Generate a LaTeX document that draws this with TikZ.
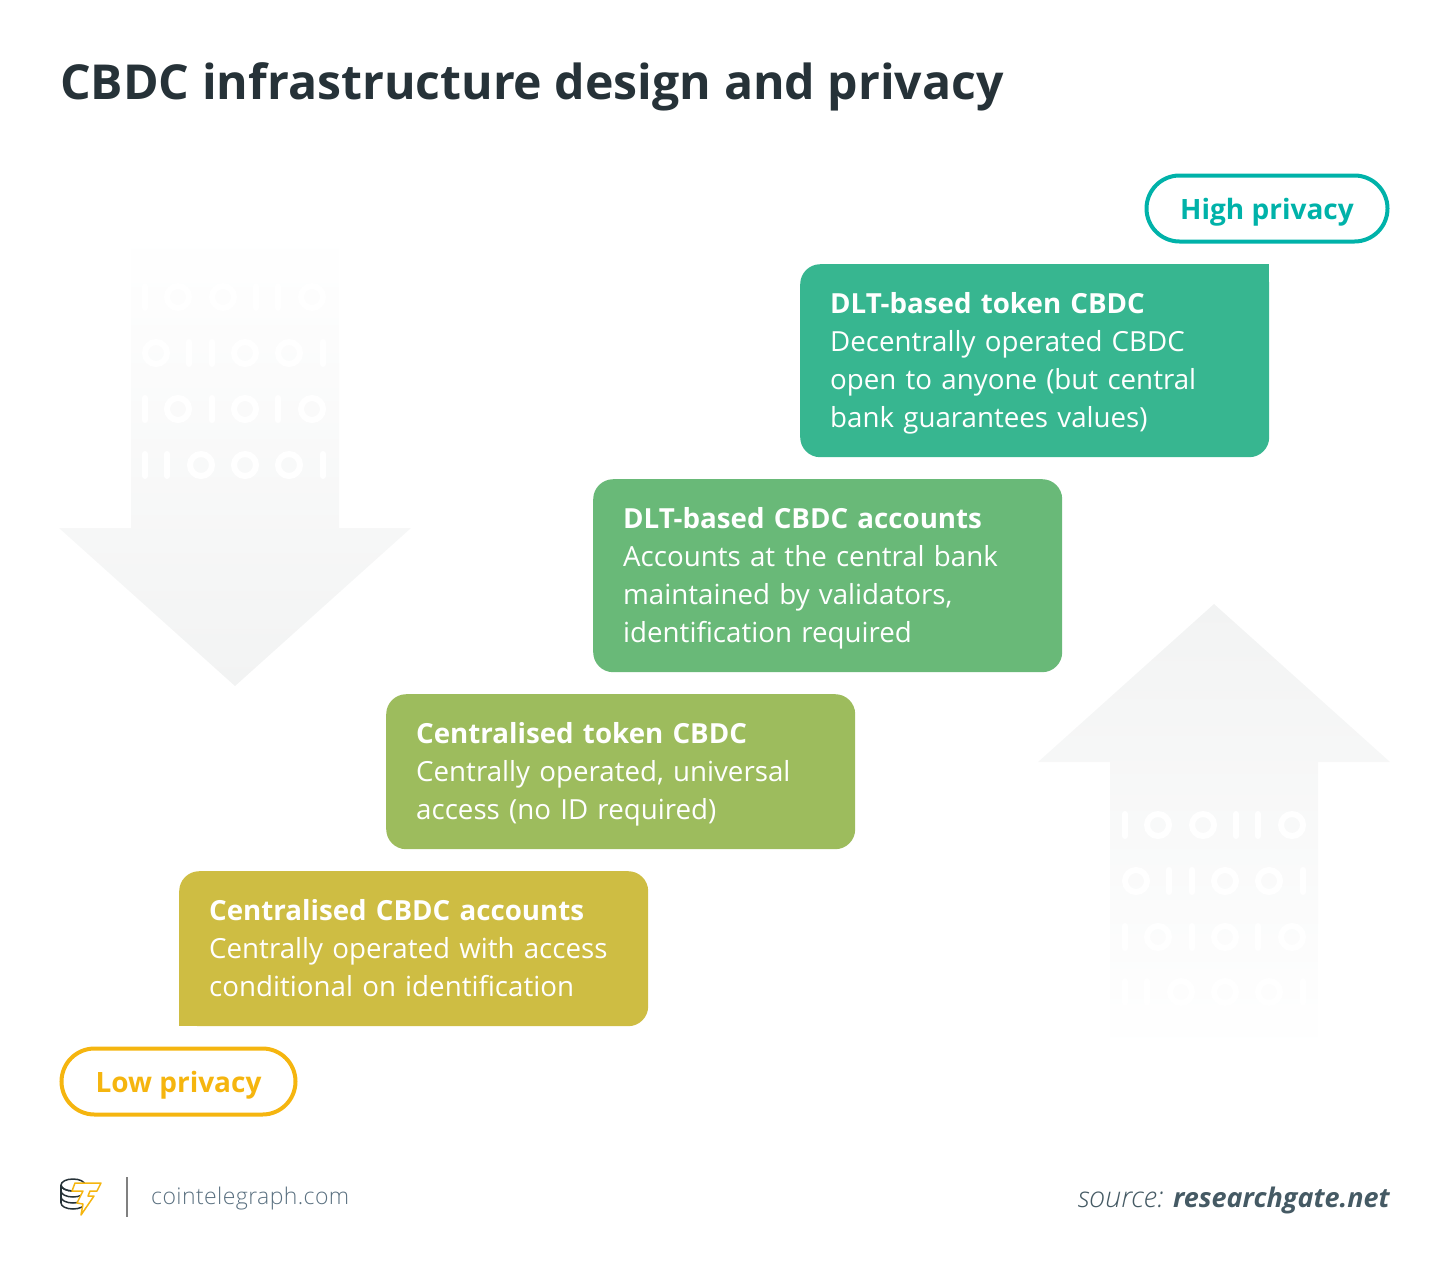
\documentclass[tikz,border=0pt]{standalone}
\usepackage{fontspec}
\setmainfont{Open Sans}
\newfontfamily\lightfont{Open Sans Light}
\definecolor{titlecol}{HTML}{263238}
\definecolor{footcol}{HTML}{5A7080}
\definecolor{sourcecol}{HTML}{455A64}
\definecolor{highcol}{HTML}{00B2A9}
\definecolor{lowcol}{HTML}{F5B50F}
\definecolor{stepa}{HTML}{CEBD43}
\definecolor{stepb}{HTML}{9DBC5D}
\definecolor{stepc}{HTML}{69B978}
\definecolor{stepd}{HTML}{37B690}
\definecolor{arrowcol}{HTML}{F2F3F3}
\tikzset{
  stepbox/.style={anchor=north west,minimum width=469pt,inner sep=0pt,rounded corners=20pt,
    text=white,align=left,text width=409pt,font=\fontsize{27.7}{38}\selectfont},
  pill/.style={draw,line width=4pt,rounded corners=33pt,minimum height=66pt,inner sep=0pt,
    text height=28pt,text depth=6pt,font=\fontsize{28}{34}\selectfont\bfseries},
  zero/.style={draw=white,line width=6pt},
  one/.style={white,line width=6pt,line cap=round},
  coin/.style={titlecol,line width=1.5pt},
}
\newcommand{\digitrow}[3]{%
  \foreach \cx in {#2} \draw[zero] (\cx,#1) circle (11);
  \foreach \cx in {#3} \draw[one] (\cx,#1-11) -- (\cx,#1+11);
}
\newcommand{\digitblock}[4]{%
  \digitrow{#1}{178,223,312}{145,256,278}
  \digitrow{#2}{156,245,289}{189,212,323}
  \digitrow{#3}{178,245,312}{145,212,278}
  \digitrow{#4}{201,245,289}{145,167,323}
}
\newcommand{\topstrut}{\rule{0pt}{30.6pt}}
\begin{document}
\begin{tikzpicture}[x=1pt,y=-1pt]
  \useasboundingbox (0,0) rectangle (1450,1277);

  % Define title
  \node[anchor=base west,inner sep=0pt,text=titlecol,font=\fontsize{48.2}{60}\selectfont\bfseries] (title) at (60,99) {CBDC infrastructure design and privacy};

  % Background arrows
  \shade[top color=white,bottom color=arrowcol]
    (131,230) -- (339,230) -- (339,528) -- (411,528) -- (235,686) -- (59,528) -- (131,528) -- cycle;
  \shade[top color=arrowcol,bottom color=white]
    (1214,604) -- (1390,762) -- (1318,762) -- (1318,1055) -- (1110,1055) -- (1110,762) -- (1038,762) -- cycle;
  \digitblock{297}{353}{409}{465}
  \begin{scope}[xshift=980pt]
    \digitblock{825}{881}{937}{992}
  \end{scope}

  % Define steps
  \node[stepbox,fill=stepd,minimum height=193pt] (dlttoken) at (800,264)
    {\topstrut\textbf{DLT-based token CBDC}\\Decentrally operated CBDC\\open to anyone (but central\\bank guarantees values)\strut};
  \fill[stepd] (dlttoken.north east) rectangle ++(-25,25);
  \node[stepbox,fill=stepc,minimum height=193pt] (dltaccounts) at (593,479)
    {\topstrut\textbf{DLT-based CBDC accounts}\\Accounts at the central bank\\maintained by validators,\\identification required\strut};
  \node[stepbox,fill=stepb,minimum height=155pt] (centraltoken) at (386,694)
    {\topstrut\textbf{Centralised token CBDC}\\Centrally operated, universal\\access (no ID required)\strut};
  \node[stepbox,fill=stepa,minimum height=155pt] (centralaccounts) at (179,871)
    {\topstrut\textbf{Centralised CBDC accounts}\\Centrally operated with access\\conditional on identification\strut};
  \fill[stepa] (centralaccounts.south west) rectangle ++(25,-25);

  % Define privacy labels
  \node[pill,draw=highcol,text=highcol,minimum width=241pt] (high) at (1267,208.5) {High privacy};
  \node[pill,draw=lowcol,text=lowcol,minimum width=234pt] (low) at (178.5,1081.5) {Low privacy};

  % Footer
  \foreach \cy in {1185,1191,1197,1203}
    \draw[coin] (61,\cy) arc[start angle=180,end angle=0,x radius=12,y radius=6];
  \draw[coin] (73,1185) ellipse (12 and 6);
  \draw[coin] (61,1185) -- (61,1203);
  \draw[lowcol,line width=1.5pt,fill=white,line join=round]
    (75,1183) -- (101,1183) -- (97,1191) -- (90,1191) -- (88,1196) -- (94,1196) -- (81,1215) -- (83,1204) -- (77,1203) -- (83,1191) -- (72,1191) -- cycle;
  \draw[gray,line width=1.5pt] (127,1177) -- (127,1217);
  \node[anchor=base west,inner sep=0pt,text=footcol,font=\fontsize{23}{28}\selectfont\lightfont\addfontfeature{LetterSpace=1.8}] (site) at (151,1204) {cointelegraph.com};
  \node[anchor=base east,inner sep=0pt,text=sourcecol,font=\fontsize{27}{30}\selectfont\itshape] (source) at (1390,1207) {{\fontsize{28.8}{30}\selectfont\lightfont\itshape source:} \textbf{researchgate.net}};
\end{tikzpicture}
\end{document}
